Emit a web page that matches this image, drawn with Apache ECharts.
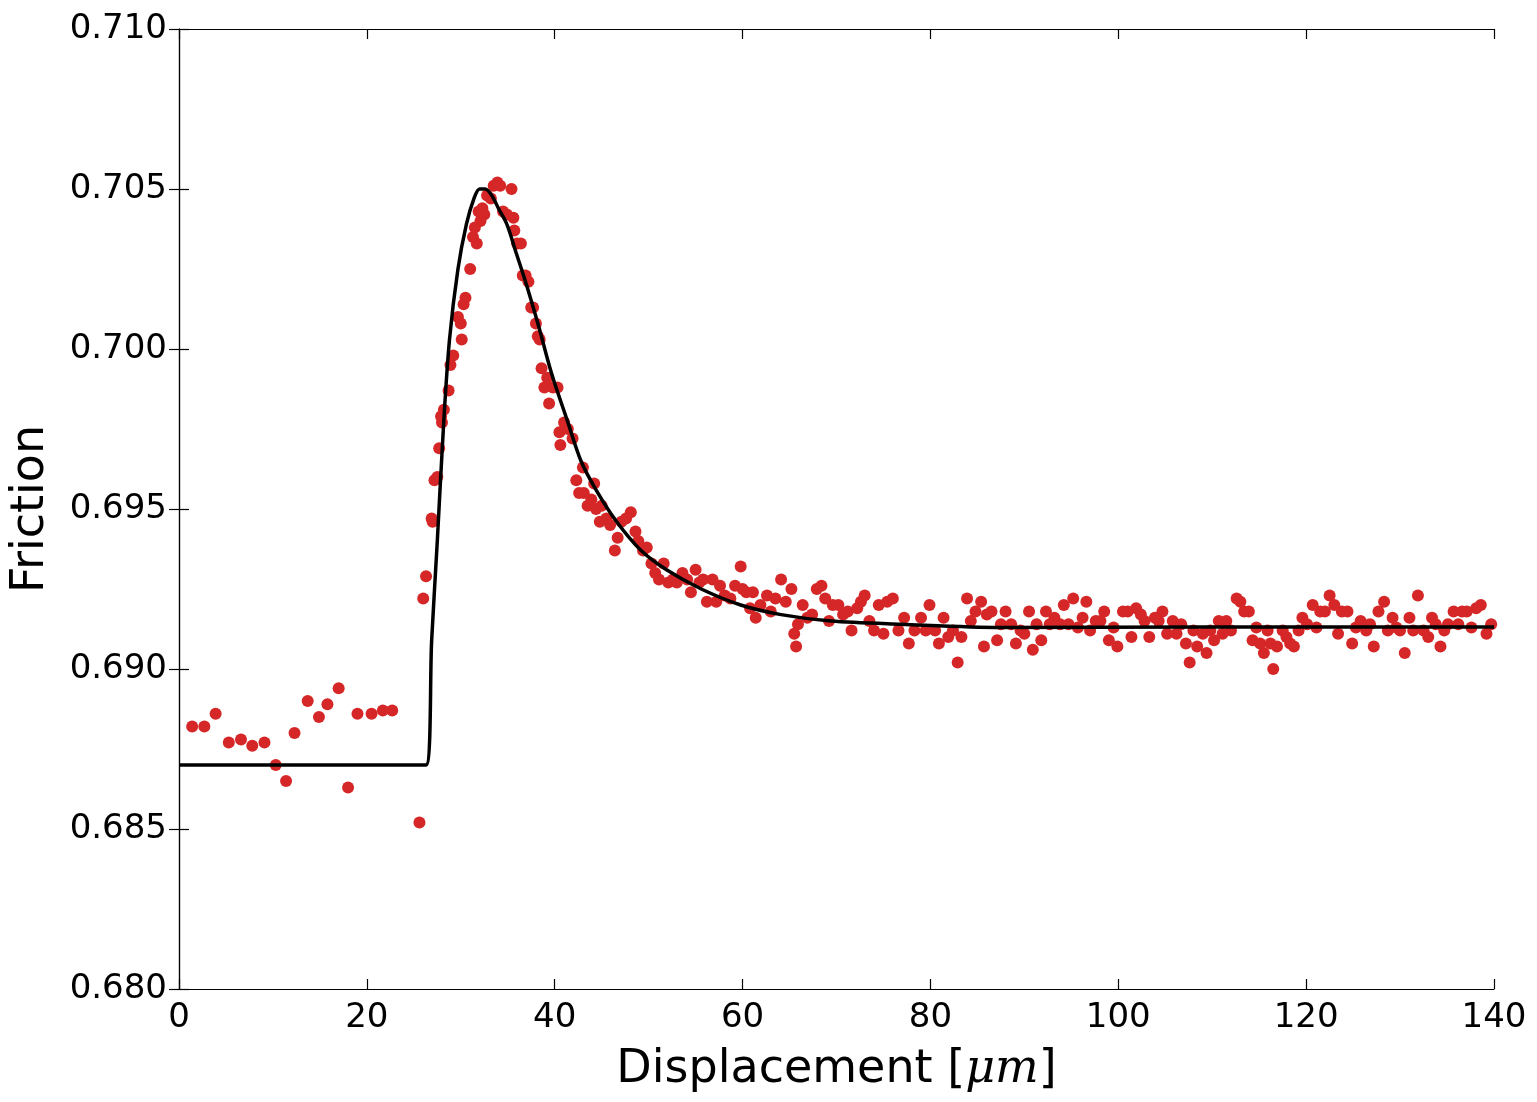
<!DOCTYPE html>
<html>
<head>
<meta charset="utf-8">
<script src="https://cdn.jsdelivr.net/npm/echarts@6/dist/echarts.min.js"></script>
<style>html,body{margin:0;padding:0;background:#fff}#chart{width:1537px;height:1102px}</style>
</head>
<body>
<div id="chart"></div>
<script>
// measured friction points [displacement, friction]
var measured = [
[1.4,0.6882],[2.7,0.6882],[3.9,0.6886],[5.3,0.6877],[6.6,0.6878],[7.8,0.6876],[9.1,0.6877],[10.3,0.6870],[11.4,0.6865],[12.3,0.6880],
[13.7,0.6890],[14.9,0.6885],[15.8,0.6889],[17.0,0.6894],[18.0,0.6863],[19.0,0.6886],[20.5,0.6886],[21.7,0.6887],[22.7,0.6887],[25.6,0.6852],
[26.0,0.6922],[26.3,0.6929],[26.9,0.6947],[27.0,0.6946],[27.2,0.6959],[27.5,0.6960],[27.7,0.6969],[27.9,0.6979],[28.0,0.6977],[28.2,0.6981],
[28.7,0.6987],[28.9,0.6995],[29.2,0.6998],[29.7,0.7010],[30.0,0.7008],[30.1,0.7003],[30.3,0.7014],[30.5,0.7016],[31.0,0.7025],[31.3,0.7035],
[31.5,0.7038],[31.7,0.7033],[31.9,0.7043],[32.1,0.7040],[32.3,0.7044],[32.5,0.7042],[32.8,0.7048],[33.2,0.7047],[33.5,0.7051],[33.9,0.7052],
[34.2,0.7051],[34.5,0.7043],[34.9,0.7042],[35.4,0.7050],[35.6,0.7041],[35.7,0.7037],[36.0,0.7033],[36.4,0.7033],[36.6,0.7023],[36.9,0.7023],
[37.2,0.7021],[37.5,0.7013],[37.7,0.7013],[38.0,0.7008],[38.2,0.7004],[38.4,0.7003],[38.6,0.6994],[38.9,0.6988],[39.2,0.6991],[39.4,0.6983],
[39.8,0.6988],[40.3,0.6988],[40.5,0.6974],[40.6,0.6970],[41.0,0.6977],[41.4,0.6975],[41.9,0.6972],[42.3,0.6959],[42.6,0.6955],[43.0,0.6963],
[43.1,0.6955],[43.5,0.6951],[43.9,0.6953],[44.2,0.6958],[44.4,0.6950],[44.8,0.6946],[45.0,0.6951],[45.5,0.6947],[45.9,0.6945],[46.4,0.6937],
[46.7,0.6941],[47.1,0.6946],[47.6,0.6947],[48.1,0.6949],[48.6,0.6943],[48.9,0.6940],[49.4,0.6937],[49.8,0.6938],[50.3,0.6933],[50.7,0.6930],
[51.1,0.6928],[51.6,0.6933],[52.1,0.6927],[52.6,0.6928],[53.0,0.6927],[53.6,0.6930],[54.1,0.6928],[54.5,0.6924],[55.0,0.6931],[55.4,0.6927],
[55.8,0.6928],[56.2,0.6921],[56.8,0.6928],[57.2,0.6921],[57.6,0.6926],[58.1,0.6923],[58.7,0.6922],[59.2,0.6926],[59.8,0.6932],[60.0,0.6925],
[60.4,0.6924],[60.8,0.6919],[61.1,0.6924],[61.4,0.6916],[61.9,0.6920],[62.6,0.6923],[63.0,0.6918],[63.5,0.6922],[64.1,0.6928],[64.6,0.6921],
[65.2,0.6925],[65.5,0.6911],[65.7,0.6907],[65.9,0.6914],[66.4,0.6920],[66.9,0.6916],[67.4,0.6917],[67.9,0.6925],[68.4,0.6926],[68.8,0.6922],
[69.2,0.6915],[69.6,0.6920],[70.2,0.6920],[70.7,0.6917],[71.2,0.6918],[71.6,0.6912],[72.2,0.6919],[72.6,0.6921],[73.0,0.6923],[73.5,0.6915],
[74.0,0.6912],[74.5,0.6920],[75.0,0.6911],[75.4,0.6921],[76.0,0.6922],[76.6,0.6912],[77.2,0.6916],[77.7,0.6908],[78.3,0.6912],[79.0,0.6916],
[79.5,0.6912],[79.9,0.6920],[80.5,0.6912],[80.9,0.6908],[81.4,0.6916],[81.9,0.6910],[82.4,0.6912],[82.9,0.6902],[83.3,0.6910],[83.9,0.6922],
[84.3,0.6915],[84.8,0.6918],[85.4,0.6921],[85.7,0.6907],[86.0,0.6917],[86.5,0.6918],[87.1,0.6909],[87.5,0.6914],[88.0,0.6918],[88.6,0.6914],
[89.1,0.6908],[89.6,0.6912],[90.0,0.6911],[90.5,0.6918],[90.9,0.6906],[91.3,0.6914],[91.8,0.6909],[92.3,0.6918],[92.7,0.6914],[93.2,0.6916],
[93.8,0.6914],[94.2,0.6920],[94.7,0.6914],[95.2,0.6922],[95.7,0.6913],[96.2,0.6916],[96.6,0.6921],[97.0,0.6912],[97.6,0.6915],[98.1,0.6915],
[98.5,0.6918],[99.0,0.6909],[99.5,0.6913],[99.9,0.6907],[100.5,0.6918],[101.0,0.6918],[101.4,0.6910],[101.9,0.6919],[102.4,0.6917],[102.8,0.6915],
[103.3,0.6910],[103.9,0.6916],[104.3,0.6915],[104.7,0.6918],[105.2,0.6911],[105.8,0.6915],[106.2,0.6911],[106.7,0.6914],[107.2,0.6908],[107.6,0.6902],
[108.0,0.6912],[108.4,0.6907],[109.0,0.6911],[109.4,0.6905],[109.8,0.6912],[110.2,0.6909],[110.7,0.6915],[111.1,0.6911],[111.5,0.6915],[112.0,0.6912],
[112.6,0.6922],[113.0,0.6921],[113.4,0.6918],[113.9,0.6918],[114.3,0.6909],[114.7,0.6913],[115.1,0.6908],[115.5,0.6905],[115.9,0.6912],[116.2,0.6908],
[116.5,0.6900],[116.9,0.6907],[117.5,0.6912],[117.9,0.6910],[118.3,0.6908],[118.7,0.6907],[119.2,0.6912],[119.6,0.6916],[120.1,0.6914],[120.7,0.6920],
[121.1,0.6913],[121.5,0.6918],[122.0,0.6918],[122.5,0.6923],[123.0,0.6920],[123.4,0.6911],[123.8,0.6918],[124.4,0.6918],[124.9,0.6908],[125.3,0.6913],
[125.8,0.6915],[126.4,0.6912],[126.8,0.6914],[127.2,0.6907],[127.7,0.6918],[128.3,0.6921],[128.7,0.6912],[129.2,0.6916],[129.6,0.6913],[130.0,0.6912],
[130.5,0.6905],[131.0,0.6916],[131.4,0.6912],[131.9,0.6923],[132.5,0.6912],[133.0,0.6910],[133.4,0.6916],[133.8,0.6914],[134.3,0.6907],[134.7,0.6912],
[135.1,0.6914],[135.7,0.6918],[136.2,0.6914],[136.6,0.6918],[137.1,0.6918],[137.6,0.6913],[138.1,0.6919],[138.6,0.6920],[139.2,0.6911],[139.7,0.6914]
];

// fitted model curve [displacement, friction]
var fitted = [
[0,0.6870],[26.3,0.6870],[26.9,0.6909],[27.5,0.6940],[28.2,0.6978],[28.8,0.7003],[29.7,0.7025],[30.6,0.7039],[31.4,0.7047],[32.0,0.7050],
[32.6,0.7050],[33.3,0.7048],[34.0,0.7044],[34.9,0.7039],[35.9,0.7030],[37.0,0.7020],[38.3,0.7007],[39.7,0.6992],[41.3,0.6978],[42.8,0.6965],
[44.4,0.6956],[46.6,0.6946],[49.2,0.6937],[51.9,0.6931],[55.6,0.6925],[59.8,0.6920],[64.1,0.6917],[69.4,0.6915],[76.9,0.6914],[87.5,0.6913],
[108.7,0.69131],[140,0.69131]
];

var chart = echarts.init(document.getElementById('chart'));
var font = 'DejaVu Sans';
function axisBase(extra) {
    var a = {
        axisLine: {show: true, lineStyle: {color: '#000', width: 1.2}},
        axisTick: {show: true, inside: true, length: 10, lineStyle: {color: '#000', width: 1.2}},
        splitLine: {show: false},
        axisLabel: {color: '#000', fontSize: 34, fontFamily: font}
    };
    for (var k in extra) a[k] = extra[k];
    return a;
}
chart.setOption({
    animation: false,
    grid: {left: 177, right: 43, top: 29, bottom: 113},
    xAxis: [
        axisBase({type: 'value', min: 0, max: 140, interval: 20,
            name: '{n|Displacement [}{i|μm}{n|]}', nameLocation: 'middle', nameGap: 58,
            nameTextStyle: {rich: {n: {fontSize: 46, fontFamily: font, color: '#000'},
                i: {fontSize: 46, fontFamily: 'DejaVu Serif', fontStyle: 'italic', color: '#000'}}},
            axisLabel: {color: '#000', fontSize: 34, fontFamily: font, margin: 12}}),
        axisBase({type: 'value', position: 'top', min: 0, max: 140, interval: 20, axisLabel: {show: false}})
    ],
    yAxis: [
        axisBase({type: 'value', min: 0.680, max: 0.710, interval: 0.005,
            name: 'Friction', nameLocation: 'middle', nameGap: 125,
            nameTextStyle: {fontSize: 46, fontFamily: font, color: '#000'},
            axisLabel: {color: '#000', fontSize: 34, fontFamily: font, margin: 12,
                formatter: function (v) { return v.toFixed(3); }}}),
        axisBase({type: 'value', position: 'right', min: 0.680, max: 0.710, interval: 0.005, axisLabel: {show: false}})
    ],
    series: [
        {type: 'scatter', data: measured, symbolSize: 12, itemStyle: {color: '#d62728', opacity: 1}},
        {type: 'line', data: fitted, showSymbol: false, smooth: 0.3, lineStyle: {color: '#000', width: 3.5}, z: 5}
    ]
});
</script>
</body>
</html>
